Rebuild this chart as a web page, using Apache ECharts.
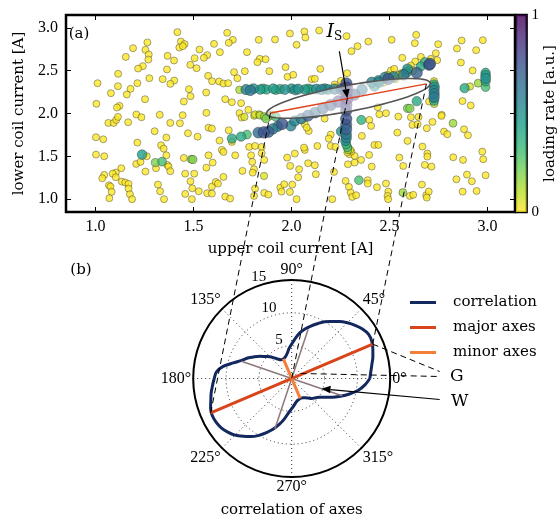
<!DOCTYPE html>
<html><head><meta charset="utf-8">
<script src="https://cdn.jsdelivr.net/npm/echarts@6/dist/echarts.min.js"></script>
<style>html,body{margin:0;padding:0;background:#fff}#c{width:559px;height:519px}</style>
</head><body><div id="c"></div><script>
// ---------- DATA ----------
// scan points: [upper coil current, lower coil current, loading rate]
const backgroundPoints = [
[1.418,2.95,0],[1.436,2.84,0],[1.455,2.81,0],[1.428,2.77,0],[1.446,2.786,0],[1.265,2.83,0],[1.192,2.763,0],[1.255,2.743,0],
[1.272,2.689,0],[1.270,2.630,0],[1.155,2.661,0],[1.531,2.747,0],[1.570,2.681,0],[1.553,2.65,0],[1.506,2.646,0],[1.605,2.813,0],
[1.368,2.673,0],[1.401,2.619,0],[1.484,2.568,0],[1.516,2.529,0],[1.242,2.553,0],[1.218,2.525,0],[1.365,2.514,0],[1.116,2.463,0],
[1.575,2.44,0],[1.595,2.377,0],[1.275,2.412,0],[1.343,2.401,0],[1.402,2.385,0],[1.382,2.346,0],[1.011,2.354,0],[1.115,2.319,0],
[1.179,2.288,0],[1.214,2.354,0],[1.079,2.237,0],[1.160,2.222,0],[1.477,2.284,0],[1.485,2.202,0],[1.565,2.245,0],[1.253,2.167,0],
[1.005,2.113,0],[1.123,2.089,0],[1.110,2.07,0],[1.451,2.14,0],[1.566,2.008,0],[1.209,1.988,0],[1.328,1.985,0],[1.445,1.98,0],
[1.066,1.89,0],[1.093,1.89,0],[1.106,1.925,0],[1.115,1.96,0],[1.167,1.898,0],[1.235,1.956,0],[1.382,1.89,0],[1.431,1.886,0],
[1.577,1.835,0],[1.594,1.824,0],[1.302,1.793,0],[1.362,1.719,0],[1.472,1.769,0],[1.521,1.73,0],[1.003,1.723,0],[1.04,1.699,0],
[1.214,1.66,0],[1.335,1.629,0],[1.348,1.59,0],[1.003,1.52,0],[1.045,1.501,0],[1.262,1.501,0],[1.208,1.411,0],[1.23,1.435,0],
[1.362,1.512,0],[1.367,1.4,0],[1.373,1.38,0],[1.382,1.326,0],[1.309,1.361,0],[1.255,1.322,0],[1.451,1.481,0],[1.577,1.512,0],
[1.598,1.427,0],[1.566,1.368,0],[1.132,1.361,0],[1.104,1.31,0],[1.088,1.298,0],[1.045,1.283,0],[1.035,1.244,0],[1.104,1.256,0],
[1.135,1.205,0],[1.152,1.194,0],[1.169,1.178,0],[1.169,1.123,0],[1.176,1.057,0],[1.187,1.0,0],[1.069,1.162,0],[1.077,1.147,0],
[1.083,1.085,0],[1.071,1.011,0],[1.319,1.17,0],[1.33,1.092,0],[1.35,1.0,0],[1.458,1.298,0],[1.504,1.298,0],[1.485,1.209,0],
[1.494,1.127,0],[1.458,1.061,0],[1.492,1.0,0],[1.527,1.092,0],[1.57,1.069,0],[1.594,1.065,0],[1.594,1.147,0],
[1.672,2.942,0],[1.701,2.86,0],[1.680,2.825,0],[1.635,2.716,0],[1.833,2.86,0],[1.916,2.864,0],[1.992,2.934,0],[2.066,2.957,0],
[2.071,2.887,0],[2.141,2.969,0],[2.026,2.802,0],[2.281,2.903,0],[2.337,2.786,0],[2.306,2.728,0],[1.773,2.716,0],[1.838,2.638,0],
[1.826,2.599,0],[1.868,2.634,0],[1.970,2.541,0],[1.887,2.494,0],[1.762,2.494,0],[2.147,2.521,0],[1.707,2.483,0],[1.724,2.412,0],
[1.980,2.428,0],[2.009,2.451,0],[2.103,2.401,0],[2.119,2.405,0],[2.284,2.471,0],[2.252,2.381,0],[2.220,2.339,0],[1.631,2.374,0],
[1.653,2.350,0],[1.677,2.354,0],[1.662,2.167,0],[1.696,2.132,0],[1.743,2.121,0],[1.780,2.043,0],[1.735,2.004,0],
[2.392,2.84,0],[2.511,2.86,0],[2.636,2.918,0],[2.629,2.821,0],[2.748,2.809,0],[2.868,2.852,0],[2.844,2.759,0],[2.976,2.856,0],
[2.942,2.739,0],[2.565,2.65,0],[2.864,2.595,0],[2.924,2.502,0],[2.66,2.661,0],[2.631,2.607,0],[2.736,2.704,0],[2.743,2.623,0],
[2.507,2.502,0],[2.524,2.522,0],[2.541,2.444,0],[2.609,2.56,0],[2.71,2.638,0],[2.44,2.074,0],[2.702,2.14,0],[2.766,1.985,0],
[2.872,2.145,0],[2.914,2.094,0],
[1.746,1.952,0],[1.68,1.804,0],[1.633,1.684,0],[1.696,1.668,0],[1.645,1.575,0],[1.653,1.551,0],[1.713,1.512,0],[1.784,1.61,0],
[1.814,1.621,0],[1.848,1.61,0],[1.794,1.512,0],[1.8,1.435,0],[1.861,1.458,0],[1.848,1.536,0],[1.75,1.33,0],[1.809,1.349,0],
[1.802,1.31,0],[1.86,1.271,0.05],[1.653,1.26,0],[1.614,1.201,0],[1.625,1.182,0],[1.662,1.03,0],[1.687,1.007,0],[1.814,1.123,0],
[1.809,1.038,0],[1.861,1.073,0],[1.882,1.053,0],[1.943,1.135,0],[1.963,1.174,0],[1.949,1.088,0],[1.992,1.084,0],[2.004,1.17,0],
[2.026,1.0,0],[1.978,1.485,0],[2.017,1.532,0],[1.993,1.388,0],[2.039,1.349,0],[2.034,1.256,0],[2.068,1.575,0],[2.064,1.602,0],
[2.085,1.419,0],[2.119,1.396,0],[2.124,1.291,0],[2.132,1.621,0],[2.088,1.796,0],[2.068,1.874,0],[2.078,1.835,0],[2.169,1.94,0],
[2.2,1.754,0],[2.19,1.707,0],[2.2,1.621,0],[2.224,1.61,0],[2.217,1.318,0],[2.276,1.213,0],[2.293,1.143,0],[2.302,1.077,0],
[2.31,1.026,0],[2.33,1.046,0],[2.208,1.0,0],[2.288,1.407,0],[2.322,1.427,0],[2.355,1.458,0],[2.296,1.524,0],[2.322,1.505,0],
[2.359,1.738,0],[2.29,1.60,0.02],[2.30,1.575,0.02],[2.305,1.555,0],[2.285,1.545,0],
[2.448,1.991,0],[2.482,2.003,0],[2.545,1.964,0],[2.609,1.956,0],[2.648,1.96,0],[2.719,1.902,0],[2.765,1.972,0],[2.617,1.867,0],
[2.643,1.874,0],[2.69,1.828,0],[2.54,1.777,0],[2.778,1.789,0],[2.795,1.758,0],[2.88,1.816,0],[2.9,1.746,0],[2.397,1.925,0],
[2.406,1.855,0],[2.592,1.68,0],[2.668,1.614,0],[2.423,1.633,0],[2.443,1.633,0],[2.396,1.516,0],[2.55,1.485,0],[2.693,1.532,0],
[2.693,1.497,0],[2.57,1.388,0],[2.68,1.4,0],[2.714,1.38,0],[2.825,1.489,0],[2.875,1.458,0],[2.973,1.555,0],[2.978,1.466,0],
[2.409,1.38,0],[2.895,1.287,0],[2.99,1.279,0],[2.841,1.232,0],[2.92,1.209,0],[2.389,1.221,0],[2.389,1.182,0],[2.482,1.182,0],
[2.436,1.139,0],[2.665,1.17,0],[2.494,1.088,0],[2.49,1.038,0],[2.493,1.0,0],[2.604,1.038,0],[2.621,1.05,0],[2.687,1.046,0],
[2.7,1.088,0],[2.69,1.018,0],[2.873,1.088,0],[2.944,1.096,0]
];
const scanLinePoints = [
// row at lower ~2.28
[1.735,2.276,0.12],[1.768,2.28,0.55],[1.79,2.27,0.6],[1.806,2.29,0.5],[1.84,2.28,0.45],[1.855,2.29,0.4],[1.873,2.28,0.4],
[1.907,2.29,0.45],[1.92,2.275,0.35],[1.941,2.285,0.4],[1.966,2.28,0.5],[2.0,2.29,0.45],[2.02,2.275,0.5],[2.034,2.285,0.5],
[2.068,2.28,0.45],[2.085,2.29,0.4],[2.102,2.28,0.4],[2.127,2.285,0.5],[2.153,2.28,0.55],[2.17,2.29,0.5],[2.186,2.28,0.5],
[2.22,2.285,0.6],[2.254,2.28,0.65],[2.27,2.29,0.7],
// column at upper ~2.28
[2.28,2.35,0.75],[2.282,2.3,0.8],[2.28,2.25,0.8],[2.282,2.17,0.92],[2.279,2.1,0.8],[2.279,2.034,0.75],[2.279,1.937,0.75],
[2.279,1.87,0.7],[2.279,1.816,0.7],[2.279,1.76,0.6],[2.28,1.718,0.55],[2.276,1.683,0.5],[2.279,1.641,0.35],[2.285,1.605,0.3],
[2.288,1.575,0.15],[2.254,1.79,0.5],
// diagonal scan
[1.696,1.707,0.4],[1.743,1.73,0.4],[1.773,1.754,0.3],
[1.831,1.777,0.65],[1.859,1.78,0.75],[1.882,1.785,0.7],[1.905,1.82,0.6],[1.93,1.85,0.55],[1.952,1.878,0.75],[1.997,1.855,0.55],
[2.017,1.913,0.55],[2.05,1.94,0.6],[2.084,1.975,0.7],[2.12,2.01,0.65],[2.16,2.06,0.7],[2.2,2.1,0.75],[2.24,2.14,0.8],
[2.32,2.22,0.75],[2.36,2.28,0.6],[2.409,2.365,0.55],[2.423,2.319,0.5],[2.443,2.384,0.5],[2.448,2.366,0.55],[2.477,2.424,0.55],
[2.494,2.404,0.75],[2.52,2.43,0.55],[2.572,2.451,0.6],[2.587,2.48,0.5],[2.592,2.521,0.5],[2.639,2.475,0.7],[2.68,2.6,0.35],
[2.66,2.55,0.4],[2.702,2.568,0.7],[2.706,2.58,0.75],
[2.47,2.36,0.05],[2.55,2.45,0.08],[2.60,2.51,0.05],[2.49,2.45,0.05],[2.56,2.47,0.05],[2.62,2.50,0.1],[2.53,2.40,0.05],
// row at lower ~1.97
[1.76,1.96,0.05],[1.81,1.975,0.05],[1.814,1.99,0.05],[1.836,1.99,0.05],[1.839,1.979,0.1],[1.861,1.964,0.15],[1.885,1.97,0.2],
[1.9,1.985,0.1],[1.92,1.96,0.3],[1.87,1.94,0.2],
// column at upper ~2.73
[2.727,2.377,0.05],[2.727,2.34,0.35],[2.729,2.31,0.5],[2.727,2.27,0.55],[2.728,2.23,0.55],[2.727,2.19,0.6],[2.727,2.15,0.4],
[2.728,2.113,0.1],
// column at upper ~2.99
[2.99,2.475,0.4],[2.99,2.445,0.45],[2.99,2.41,0.5],[2.99,2.375,0.4],[2.99,2.308,0.3],[2.883,2.296,0.4],[2.91,2.315,0.05],
[2.952,2.354,0.15],
// isolated
[1.238,1.52,0.45],[1.306,1.427,0.2],[1.34,1.438,0.3],[1.489,1.466,0.15],[1.497,1.462,0.2],[2.344,1.221,0.3],[2.356,1.925,0.35],
[2.639,2.144,0.4],[2.592,2.06,0.2],[2.604,2.06,0.2],[2.824,1.886,0.15],[2.568,1.077,0.15]
];
const xTicks = [1.0, 1.5, 2.0, 2.5, 3.0];
const yTicks = [1.0, 1.5, 2.0, 2.5, 3.0];
const colorbarTicks = [0, 1];
const ellipseMajorAxis = [[1.893, 2.007], [2.688, 2.346]];   // [upper, lower]
const optimum = [2.285, 2.178];                                // I_S

// polar panel: correlation vs angle
const corrAngles = [0,5,10,15,20,25,30,35,40,45,50,55,60,65,70,75,80,85,90,95,100,105,110,115,120,125,130,135,140,145,150,155,160,165,170,175,
 180,185,190,195,200,205,210,215,220,225,230,235,240,245,250,255,260,265,270,275,280,285,290,295,300,305,310,315,320,325,330,335,340,345,350,355];
const corrValues = [11.9,12.1,12.4,12.8,13.15,13.45,13.5,13.15,12.6,12.0,11.35,10.6,10.0,9.2,8.5,7.8,7.05,6.1,5.25,4.6,3.9,3.5,3.3,3.2,3.3,3.6,4.1,4.7,5.2,5.9,6.6,7.4,8.1,9.2,10.6,11.5,
 11.8,12.1,12.45,12.75,13.15,13.35,13.3,13.1,12.7,12.2,11.5,10.8,10.0,9.1,8.2,7.2,6.2,5.2,4.6,4.1,3.7,3.45,3.35,3.3,3.4,3.6,3.9,4.3,4.6,5.0,5.7,6.8,7.9,9.1,10.3,11.2];
const majorAxes = [[13.4, 23], [13.4, 203]];     // [radius, angle]
const minorAxes = [[3.25, 113], [3.3, 293]];
const axisG = [[8.1, 161], [8.1, 341]];
const axisW = [[7.9, 71.5], [8.1, 251.5]];
const radialTicks = [5, 10, 15];
const angleTicks = [0, 45, 90, 135, 180, 225, 270, 315];

// ---------- CHART ----------
const chart = echarts.init(document.getElementById('c'), null, {renderer:'canvas', width:559, height:519});
const serif = 'DejaVu Serif', numFont = 'Liberation Serif';
const viridis = ['#440154','#482878','#3e4989','#31688e','#26828e','#1f9e89','#35b779','#6ece58','#b5de2b','#fde725'];
const viridisR = viridis.slice().reverse();
const C_CORR = '#13285e', C_MAJOR = '#d9451b', C_MINOR = '#f47f38', C_GREY = '#8c7878';

const scatterData = backgroundPoints.concat(scanLinePoints).sort((a, b) => a[2] - b[2]);
const corrData = corrValues.map((r, i) => [r, corrAngles[i]]);
corrData.push([corrValues[0], corrAngles[0]]);

const tickStyle = {color:'#000', width:1};
const option = {
  animation:false,
  backgroundColor:'#fff',
  grid:[
    {left:66, top:15, width:449, height:197, show:true, borderColor:'#000', borderWidth:2.5},
    {left:516, top:15, width:13, height:197, show:true, borderColor:'#000', borderWidth:2.5}
  ],
  polar:[{center:[291.7, 378.5], radius:98.5}],
  angleAxis:[{polarIndex:0, type:'value', min:0, max:360, interval:45, startAngle:0, clockwise:false,
    axisLine:{show:true, lineStyle:{color:'#000', width:2}}, axisTick:{show:false},
    axisLabel:{margin:2, color:'#000', fontFamily:numFont, fontSize:16, formatter:v => (v >= 360 ? '' : v + '°')},
    splitLine:{show:true, lineStyle:{color:'#333', type:[1,3], width:1}}}],
  radiusAxis:[{polarIndex:0, type:'value', min:0, max:15, interval:5,
    axisLine:{show:false}, axisTick:{show:false}, axisLabel:{show:false},
    splitLine:{show:true, lineStyle:{color:'#333', type:[1,3], width:1}}}],
  xAxis:[
    {gridIndex:0, type:'value', min:0.85, max:3.14, position:'bottom', axisLine:{show:false},
     axisTick:{show:true, inside:true, length:5, customValues:xTicks, lineStyle:tickStyle},
     axisLabel:{customValues:xTicks, formatter:v => v.toFixed(1), fontFamily:numFont, fontSize:16, color:'#000', margin:7},
     splitLine:{show:false}, name:'upper coil current [A]', nameLocation:'middle', nameGap:30,
     nameTextStyle:{fontFamily:serif, fontSize:15, color:'#000'}},
    {gridIndex:0, type:'value', min:0.85, max:3.14, position:'top', axisLine:{show:false},
     axisTick:{show:true, inside:true, length:5, customValues:xTicks, lineStyle:tickStyle},
     axisLabel:{show:false}, splitLine:{show:false}},
    {gridIndex:1, type:'category', data:['c'], show:false}
  ],
  yAxis:[
    {gridIndex:0, type:'value', min:0.85, max:3.15, position:'left', axisLine:{show:false},
     axisTick:{show:true, inside:true, length:5, customValues:yTicks, lineStyle:tickStyle},
     axisLabel:{customValues:yTicks, formatter:v => v.toFixed(1), fontFamily:numFont, fontSize:16, color:'#000', margin:8},
     splitLine:{show:false}, name:'lower coil current [A]', nameLocation:'middle', nameGap:37,
     nameTextStyle:{fontFamily:serif, fontSize:15, color:'#000'}},
    {gridIndex:0, type:'value', min:0.85, max:3.15, position:'right', axisLine:{show:false},
     axisTick:{show:true, inside:true, length:5, customValues:yTicks, lineStyle:tickStyle},
     axisLabel:{show:false}, splitLine:{show:false}},
    {gridIndex:1, type:'value', min:0, max:1, position:'right', axisLine:{show:false}, axisTick:{show:false},
     axisLabel:{customValues:colorbarTicks, fontFamily:numFont, fontSize:15, color:'#000', margin:5},
     splitLine:{show:false}, name:'loading rate [a.u.]', nameLocation:'middle', nameGap:12, nameRotate:90,
     nameTextStyle:{fontFamily:serif, fontSize:15, color:'#000'}}
  ],
  visualMap:[{show:false, type:'continuous', seriesIndex:0, dimension:2, min:0, max:1,
    inRange:{color:viridisR, symbolSize:[7, 13]}}],
  legend:{data:['correlation','major axes','minor axes'], orient:'vertical', left:410, top:295, padding:0,
    icon:'rect', itemWidth:26, itemHeight:3, itemGap:10, selectedMode:false,
    textStyle:{fontFamily:serif, fontSize:15, color:'#000', lineHeight:15, padding:[0,0,0,12]}},
  series:[
    {type:'scatter', xAxisIndex:0, yAxisIndex:0, data:scatterData, z:2,
     itemStyle:{opacity:0.8, borderColor:'rgba(40,40,40,0.85)', borderWidth:0.6}},
    {type:'line', xAxisIndex:0, yAxisIndex:0, data:ellipseMajorAxis, symbol:'none', z:10,
     lineStyle:{color:'#e0401c', width:1.5}},
    {type:'bar', xAxisIndex:2, yAxisIndex:2, data:[1], barWidth:'100%',
     itemStyle:{opacity:0.8, color:new echarts.graphic.LinearGradient(0,0,0,1,
       viridis.map((c, i) => ({offset:i / (viridis.length - 1), color:c})))}},
    {type:'line', name:'correlation', coordinateSystem:'polar', polarIndex:0, data:corrData, symbol:'none', z:5, smooth:0.3,
     itemStyle:{color:C_CORR}, lineStyle:{color:C_CORR, width:3}},
    {type:'line', name:'G', coordinateSystem:'polar', polarIndex:0, data:axisG, symbol:'none', z:6,
     itemStyle:{color:C_GREY}, lineStyle:{color:C_GREY, width:1.5}},
    {type:'line', name:'W', coordinateSystem:'polar', polarIndex:0, data:axisW, symbol:'none', z:6,
     itemStyle:{color:C_GREY}, lineStyle:{color:C_GREY, width:1.5}},
    {type:'line', name:'major axes', coordinateSystem:'polar', polarIndex:0, data:majorAxes, symbol:'none', z:7,
     itemStyle:{color:C_MAJOR}, lineStyle:{color:C_MAJOR, width:3}},
    {type:'line', name:'minor axes', coordinateSystem:'polar', polarIndex:0, data:minorAxes, symbol:'none', z:8,
     itemStyle:{color:C_MINOR}, lineStyle:{color:C_MINOR, width:3}}
  ]
};
chart.setOption(option);

// ---------- annotations placed through the library's coordinate systems ----------
const toGrid = d => chart.convertToPixel({gridIndex:0}, d);
const toPolar = d => chart.convertToPixel({seriesIndex:3}, d);
const A = toGrid(ellipseMajorAxis[0]), B = toGrid(ellipseMajorAxis[1]), S = toGrid(optimum);
const M = [(A[0] + B[0]) / 2, (A[1] + B[1]) / 2];
const L = Math.hypot(B[0] - A[0], B[1] - A[1]);
const u = [(B[0] - A[0]) / L, (B[1] - A[1]) / L], n = [-u[1], u[0]];
const ea = L / 2 + 4, eb = 13;
const ellPts = [];
for (let k = 0; k < 96; k++) {
  const t = k / 96 * 2 * Math.PI;
  ellPts.push([M[0] + ea * Math.cos(t) * u[0] + eb * Math.sin(t) * n[0], M[1] + ea * Math.cos(t) * u[1] + eb * Math.sin(t) * n[1]]);
}
const P0 = toPolar([0, 0]);
const Pmaj1 = toPolar(majorAxes[0]), Pmaj2 = toPolar(majorAxes[1]);
const dashed = (p, q) => ({type:'line', shape:{x1:p[0], y1:p[1], x2:q[0], y2:q[1]}, z:40, silent:true,
  style:{stroke:'#000', lineWidth:1, lineDash:[6,4]}});
function arrow(from, to, size) {
  const dx = to[0] - from[0], dy = to[1] - from[1], l = Math.hypot(dx, dy), ux = dx / l, uy = dy / l;
  const base = [to[0] - ux * size, to[1] - uy * size], w = size * 0.42;
  return [
    {type:'line', z:41, shape:{x1:from[0], y1:from[1], x2:base[0], y2:base[1]}, style:{stroke:'#000', lineWidth:1.2}},
    {type:'polygon', z:41, shape:{points:[to, [base[0] - uy * w, base[1] + ux * w], [base[0] + uy * w, base[1] - ux * w]]}, style:{fill:'#000'}}
  ];
}
const text = (x, y, t, size, extra) => Object.assign({type:'text', x:x, y:y, z:42,
  style:{text:t, font:size + 'px "' + serif + '"', fill:'#000', align:'center', verticalAlign:'middle'}}, extra || {});

const Wtarget = toPolar([4.8, 341]);
const Ganchor1 = [P0[0] + 148, P0[1] - 7], Ganchor2 = [P0[0] + 148, P0[1] - 2];
const graphics = [
  {type:'polygon', z:8, shape:{points:ellPts}, style:{fill:'rgba(255,255,255,0.55)', stroke:'#555', lineWidth:1.6}},
  dashed(A, Pmaj2), dashed(S, P0), dashed(B, Pmaj1),
  dashed(Pmaj1, Ganchor1), dashed([P0[0] + 9, P0[1] - 5], Ganchor2),
  ...arrow([S[0] - 8, S[1] - 47], S, 9),
  ...arrow([P0[0] + 148, P0[1] + 21], Wtarget, 9),
  {type:'text', x:S[0] - 13, y:S[1] - 66, z:42, style:{text:'{i|I}{s|S}', align:'center', verticalAlign:'middle', fill:'#000',
    rich:{i:{fontFamily:serif, fontStyle:'italic', fontSize:19, fill:'#000'}, s:{fontFamily:serif, fontSize:12, fill:'#000', padding:[9,0,0,0]}}}},
  text(P0[0] + 165, P0[1] - 2, 'G', 17),
  text(P0[0] + 168, P0[1] + 23, 'W', 17),
  text(79, 34, '(a)', 15),
  text(81, 270, '(b)', 15),
  text(P0[0], 510, 'correlation of axes', 15)
];
radialTicks.forEach(v => {
  const p = toPolar([v + 1.2, 108]);
  graphics.push({type:'text', x:p[0], y:p[1], z:42, style:{text:String(v), font:'15px "' + numFont + '"', fill:'#000', align:'center', verticalAlign:'middle'}});
});
chart.setOption({graphic:graphics});
</script></body></html>
